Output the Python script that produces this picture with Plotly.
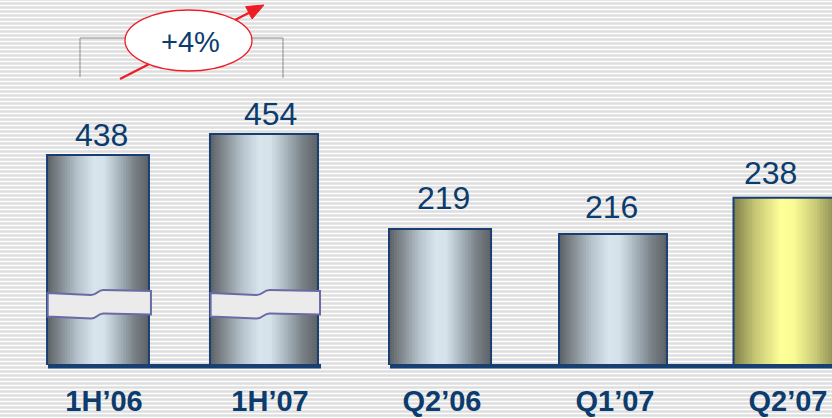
import plotly.graph_objects as go

W, H = 832, 418

# ---- data -------------------------------------------------------------
half_cats = ["1H’06", "1H’07"]
half_vals = [438, 454]
qtr_cats = ["Q2’06", "Q1’07", "Q2’07"]
qtr_vals = [219, 216, 238]
growth_text = "+4%"

# ---- styling ----------------------------------------------------------
NAVY = "#0c3c6d"
OUTLINE = "#183f72"
RED = "#ee1c24"
FONT = "Liberation Sans, Arial, sans-serif"

GRAY_STOPS = [(0.00, (0x5c, 0x60, 0x64)), (0.14, (0x86, 0x8e, 0x94)),
              (0.30, (0xb6, 0xc3, 0xcc)), (0.46, (0xd9, 0xe5, 0xed)),
              (0.56, (0xd6, 0xe2, 0xea)), (0.72, (0xa4, 0xb0, 0xb8)),
              (0.86, (0x78, 0x80, 0x86)), (1.00, (0x5e, 0x62, 0x66))]
YELLOW_STOPS = [(0.00, (0x80, 0x80, 0x4a)), (0.20, (0xc4, 0xc4, 0x74)),
                (0.45, (0xff, 0xff, 0x99)), (0.58, (0xfa, 0xfa, 0x95)),
                (0.78, (0xca, 0xca, 0x78)), (1.00, (0x82, 0x82, 0x4c))]

half_widths = [0.614, 0.651]
qtr_widths = [0.590, 0.624, 0.607]
half_fills = [GRAY_STOPS, GRAY_STOPS]
qtr_fills = [GRAY_STOPS, GRAY_STOPS, YELLOW_STOPS]

# per-label nudges (pixels) for the value labels
half_label_dx = [3, 6]
half_label_dy = [0, 0]
qtr_label_dx = [3, -2, -16]
qtr_label_dy = [11, 7, 5]

BASE_PX = 365  # pixel row of the bar baseline


def px(x):
    return x / W


def py(y):
    return 1 - y / H


def blend(stops, t):
    for (t0, c0), (t1, c1) in zip(stops[:-1], stops[1:]):
        if t0 <= t <= t1:
            f = (t - t0) / (t1 - t0) if t1 > t0 else 0
            r, g, b = (round(a + (b_ - a) * f) for a, b_ in zip(c0, c1))
            return f"rgb({r},{g},{b})"
    r, g, b = stops[-1][1]
    return f"rgb({r},{g},{b})"


fig = go.Figure()


def add_cylinders(xs, vals, widths, fills, names, xa, ya, n_strips=40):
    # vertical strips give each bar a horizontal shading gradient
    for k in range(n_strips):
        t = (k + 0.5) / n_strips
        grow = 1.6 if k < n_strips - 1 else 1.0
        fig.add_trace(go.Bar(
            x=xs, y=vals,
            width=[w / n_strips * grow for w in widths],
            offset=[-w / 2 + k * w / n_strips for w in widths],
            marker=dict(color=[blend(s, t) for s in fills], line=dict(width=0)),
            hoverinfo="skip", showlegend=False, xaxis=xa, yaxis=ya,
        ))
    fig.add_trace(go.Bar(
        x=xs, y=vals, width=widths, offset=[-w / 2 for w in widths],
        marker=dict(color="rgba(0,0,0,0)", line=dict(color=OUTLINE, width=2)),
        customdata=names, hovertemplate="%{customdata}: %{y}<extra></extra>",
        showlegend=False, xaxis=xa, yaxis=ya,
    ))


half_x = list(range(len(half_cats)))
qtr_x = list(range(len(qtr_cats)))

add_cylinders(half_x, half_vals, half_widths, half_fills, half_cats, "x", "y")
add_cylinders(qtr_x, qtr_vals, qtr_widths, qtr_fills, qtr_cats, "x2", "y2")

# ---- value labels -----------------------------------------------------
annotations = []
for xs, vals, dxs, dys, xr, yr in [
    (half_x, half_vals, half_label_dx, half_label_dy, "x", "y"),
    (qtr_x, qtr_vals, qtr_label_dx, qtr_label_dy, "x2", "y2"),
]:
    for x, v, dx, dy in zip(xs, vals, dxs, dys):
        annotations.append(dict(
            x=x, y=v, xref=xr, yref=yr, text=str(v), showarrow=False,
            yanchor="bottom", xshift=dx, yshift=dy,
            font=dict(family=FONT, size=32, color=NAVY),
        ))

annotations.append(dict(
    x=px(190), y=py(42), xref="paper", yref="paper", text=growth_text,
    showarrow=False, xanchor="center", yanchor="middle",
    font=dict(family=FONT, size=29, color=NAVY),
))

# ---- shapes -----------------------------------------------------------
shapes = []

# striped backdrop
for k in range(0, H // 4 + 1):
    yy = py(4 * k + 1.5)
    shapes.append(dict(type="line", xref="paper", yref="paper", x0=0, x1=1,
                       y0=yy, y1=yy, line=dict(color="#ffffff", width=1.5),
                       layer="below"))

# dark floor under each group of bars
for xs, widths, xr, right_pad in [(half_x, half_widths, "x", 0.018),
                                  (qtr_x, qtr_widths, "x2", 0.05)]:
    shapes.append(dict(
        type="rect", xref=xr, yref="paper",
        x0=xs[0] - widths[0] / 2 + 0.006, x1=xs[-1] + widths[-1] / 2 + right_pad,
        y0=py(368.5), y1=py(BASE_PX - 1),
        fillcolor=OUTLINE, line=dict(width=0), layer="above",
    ))

# axis-break bands across the half-year bars
for x, w in zip(half_x, half_widths):
    xl = x - w / 2 + 0.004
    xr = x + w / 2 + 0.012
    xa = xl + 0.42 * (xr - xl)
    xb = xl + 0.54 * (xr - xl)
    d = 0.5 * (xb - xa)
    path = (f"M {xl},{py(293)} L {xa},{py(295)} "
            f"C {xa + d},{py(295)} {xb - d},{py(290)} {xb},{py(290)} "
            f"L {xr},{py(291)} L {xr},{py(314.5)} L {xb},{py(313.5)} "
            f"C {xb - d},{py(313.5)} {xa + d},{py(318.5)} {xa},{py(318.5)} "
            f"L {xl},{py(316.5)} Z")
    shapes.append(dict(type="path", xref="x", yref="paper", path=path,
                       fillcolor="#ebebeb", line=dict(color="#6a6aa6", width=2),
                       layer="above"))

# bracket joining the two half-year bars
shapes.append(dict(
    type="path", xref="paper", yref="paper",
    path=(f"M {px(80)},{py(77)} L {px(80)},{py(38)} "
          f"L {px(283)},{py(38)} L {px(283)},{py(78)}"),
    line=dict(color="#8c8c8c", width=1), layer="above",
))

# growth arrow
tip = (264.0, 5.0)
tail = (120.0, 79.0)
ux, uy = tip[0] - tail[0], tip[1] - tail[1]
ln = (ux ** 2 + uy ** 2) ** 0.5
ux, uy = ux / ln, uy / ln
nx, ny = -uy, ux
head_len, head_half = 17.0, 7.0
bx, by = tip[0] - head_len * ux, tip[1] - head_len * uy
shapes.append(dict(
    type="line", xref="paper", yref="paper",
    x0=px(tail[0]), y0=py(tail[1]), x1=px(bx + 3 * ux), y1=py(by + 3 * uy),
    line=dict(color=RED, width=2.2), layer="above",
))
shapes.append(dict(
    type="path", xref="paper", yref="paper",
    path=(f"M {px(tip[0])},{py(tip[1])} "
          f"L {px(bx + head_half * nx)},{py(by + head_half * ny)} "
          f"L {px(bx - head_half * nx)},{py(by - head_half * ny)} Z"),
    fillcolor=RED, line=dict(color=RED, width=1), layer="above",
))

# ellipse holding the growth figure
shapes.append(dict(
    type="circle", xref="paper", yref="paper",
    x0=px(125), x1=px(252), y0=py(71), y1=py(10),
    fillcolor="#ffffff", line=dict(color=RED, width=1.3), layer="above",
))

# ---- axes -------------------------------------------------------------
y_dom = [(H - BASE_PX) / H, 1]
tickfont = dict(family=FONT, size=29, color=NAVY, weight="bold")
common_x = dict(showgrid=False, zeroline=False, showline=False,
                ticks="outside", ticklen=10, tickcolor="rgba(0,0,0,0)",
                tickfont=tickfont, fixedrange=True, automargin=False)
common_y = dict(visible=False, showgrid=False, zeroline=False,
                fixedrange=True)

fig.update_layout(
    width=W, height=H,
    margin=dict(l=0, r=0, t=0, b=0),
    paper_bgcolor="#dedede",
    plot_bgcolor="rgba(0,0,0,0)",
    barmode="overlay",
    showlegend=False,
    xaxis=dict(domain=[px(15), px(347)], range=[-0.5, 1.5],
               tickvals=half_x, ticktext=half_cats, anchor="y",
               ticklabelshift=6, **common_x),
    yaxis=dict(domain=y_dom, range=[278, 278 + BASE_PX / 1.3125],
               anchor="x", **common_y),
    xaxis2=dict(domain=[px(353.5), 1], range=[-0.5, 2 + 46 / 173],
                tickvals=qtr_x, ticktext=qtr_cats, anchor="y2",
                ticklabelshift=2, **common_x),
    yaxis2=dict(domain=y_dom, range=[136.6, 136.6 + BASE_PX / 1.65],
                anchor="x2", **common_y),
    annotations=annotations,
    shapes=shapes,
)

fig.write_html("out.html")
